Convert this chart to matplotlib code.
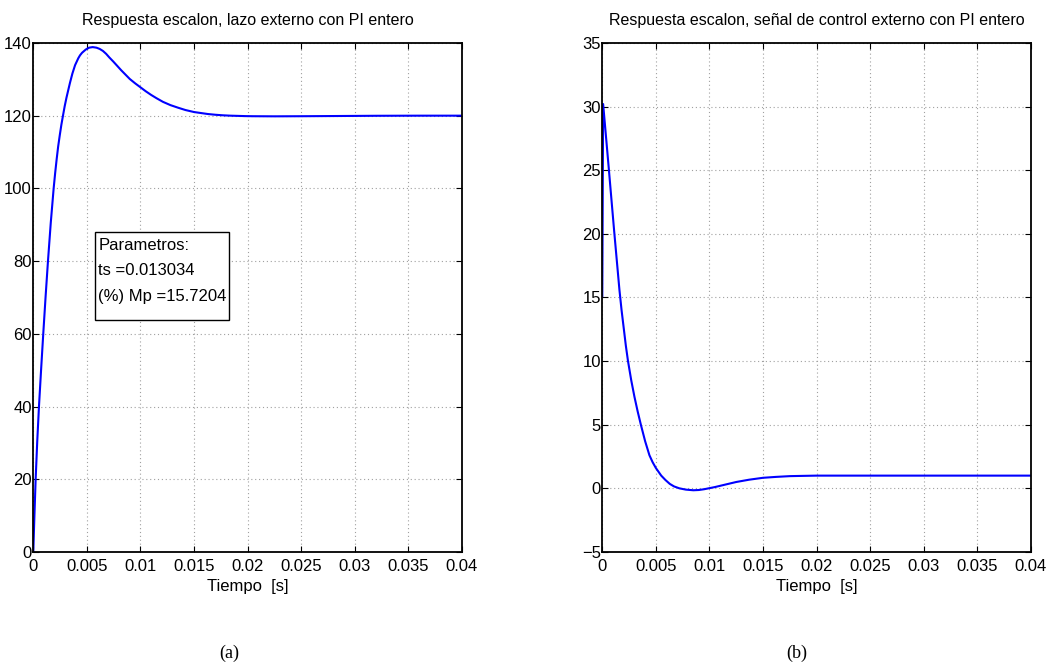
import matplotlib
matplotlib.use("Agg")
import matplotlib.pyplot as plt
from matplotlib.patches import Rectangle

plt.rcParams['font.family'] = ['Liberation Sans Narrow', 'Liberation Sans', 'DejaVu Sans']
plt.rcParams['font.size'] = 12

# ---- data (a): outer loop step response ----
t_a = [0, 0.0001, 0.00022, 0.00037, 0.00053, 0.00073, 0.00093, 0.00115, 0.00137,
       0.00163, 0.0019, 0.00204, 0.00218, 0.00232, 0.00247, 0.00262, 0.00277, 0.00293,
       0.0031, 0.00342, 0.00365, 0.0039, 0.0042, 0.00436, 0.00455, 0.0049, 0.0052,
       0.00554, 0.0059, 0.0062, 0.0065, 0.0068, 0.0071, 0.00746, 0.0078, 0.0082,
       0.0086, 0.009, 0.0095, 0.01, 0.0105, 0.011, 0.0115, 0.0121, 0.0128, 0.0135,
       0.0142, 0.015, 0.0157, 0.0163, 0.017, 0.0177, 0.0184, 0.019, 0.0198, 0.0205,
       0.0225, 0.025, 0.028, 0.032, 0.036, 0.04]
y_a = [0, 9.5, 20, 30.5, 40, 50.2, 60, 70.3, 80,
       90.5, 100, 104.2, 108, 111.5, 114.6, 117.5, 120, 122.6,
       125.0, 129.0, 131.6, 133.9, 135.8, 136.6, 137.3, 138.2, 138.7,
       138.86, 138.7, 138.35, 137.8, 137.0, 136.0, 134.9, 133.8, 132.5,
       131.3, 130.1, 128.9, 127.8, 126.7, 125.7, 124.8, 123.8, 122.9, 122.2,
       121.55, 121.0, 120.7, 120.45, 120.25, 120.1, 120.0, 119.95, 119.88, 119.85,
       119.82, 119.85, 119.9, 119.97, 120.0, 120.0]

# ---- data (b): outer control signal ----
t_b = [0, 0.00008, 0.0006, 0.0011, 0.0016, 0.0018, 0.002, 0.0022, 0.0024, 0.0027,
       0.003, 0.0033, 0.0036, 0.004, 0.0044, 0.0047, 0.005, 0.0055, 0.0059, 0.0063,
       0.0067, 0.0072, 0.0078, 0.0085, 0.009, 0.0095, 0.0105, 0.0115, 0.0125, 0.0137,
       0.015, 0.0162, 0.0175, 0.0187, 0.02, 0.025, 0.04]
u_b = [15.1, 30.2, 25.2, 20.3, 15.6, 14.0, 12.6, 11.2, 10.0, 8.5,
       7.2, 6.05, 5.0, 3.7, 2.6, 2.05, 1.6, 1.0, 0.65, 0.35,
       0.15, 0.0, -0.1, -0.15, -0.13, -0.07, 0.1, 0.3, 0.5, 0.68,
       0.83, 0.9, 0.96, 0.98, 1.0, 1.0, 1.0]

title_a = "Respuesta escalon, lazo externo con PI entero"
title_b = "Respuesta escalon, señal de control externo con PI entero"
xlabel = "Tiempo  [s]"
xticks = [0, 0.005, 0.01, 0.015, 0.02, 0.025, 0.03, 0.035, 0.04]
xtick_labels = ["0", "0.005", "0.01", "0.015", "0.02", "0.025", "0.03", "0.035", "0.04"]
yticks_a = [0, 20, 40, 60, 80, 100, 120, 140]
yticks_b = [-5, 0, 5, 10, 15, 20, 25, 30, 35]
box_lines = ["Parametros:", "ts =0.013034", "(%) Mp =15.7204"]

fig = plt.figure(figsize=(10.5, 6.66), dpi=100)
ax1 = fig.add_axes([0.0317, 0.1712, 0.4083, 0.7643])
ax2 = fig.add_axes([0.5736, 0.1712, 0.4083, 0.7643])


def style(ax, yticks, ylim):
    ax.set_xlim(0, 0.04)
    ax.set_ylim(*ylim)
    ax.set_xticks(xticks)
    ax.set_xticklabels(xtick_labels)
    ax.set_yticks(yticks)
    ax.grid(True, linestyle=(0, (1, 2.5)), color='#a0a0a0', linewidth=0.8)
    ax.tick_params(direction='in', top=True, right=True, length=4, width=0.8,
                   labelsize=12)
    ax.tick_params(axis='x', pad=5)
    ax.tick_params(axis='y', pad=1)
    for s in ax.spines.values():
        s.set_linewidth(1.3)
        s.set_color('black')
    ax.set_xlabel(xlabel, fontsize=12, labelpad=4)


ax1.plot(t_a, y_a, color='#0000ff', linewidth=1.5)
style(ax1, yticks_a, (0, 140))
ax1.set_title(title_a, fontsize=11.5, pad=13)

ax2.plot(t_b, u_b, color='#0000ff', linewidth=1.5)
style(ax2, yticks_b, (-5, 35))
ax2.set_title(title_b, fontsize=11.5, pad=13)

# parameter box
ax1.add_patch(Rectangle((0.144, 0.456), 0.3126, 0.172, transform=ax1.transAxes,
                        facecolor='white', edgecolor='black', linewidth=1.0, zorder=5))
for i, line in enumerate(box_lines):
    ax1.text(0.152, 0.603 - 0.0505 * i, line, transform=ax1.transAxes,
             ha='left', va='center', fontsize=12, zorder=6)

fig.text(229 / 1050, 1 - 653 / 666, "(a)", ha='center', va='center',
         fontsize=13, family=['Liberation Serif', 'DejaVu Serif'])
fig.text(797 / 1050, 1 - 653 / 666, "(b)", ha='center', va='center',
         fontsize=13, family=['Liberation Serif', 'DejaVu Serif'])

fig.savefig("out.png", dpi=100)
